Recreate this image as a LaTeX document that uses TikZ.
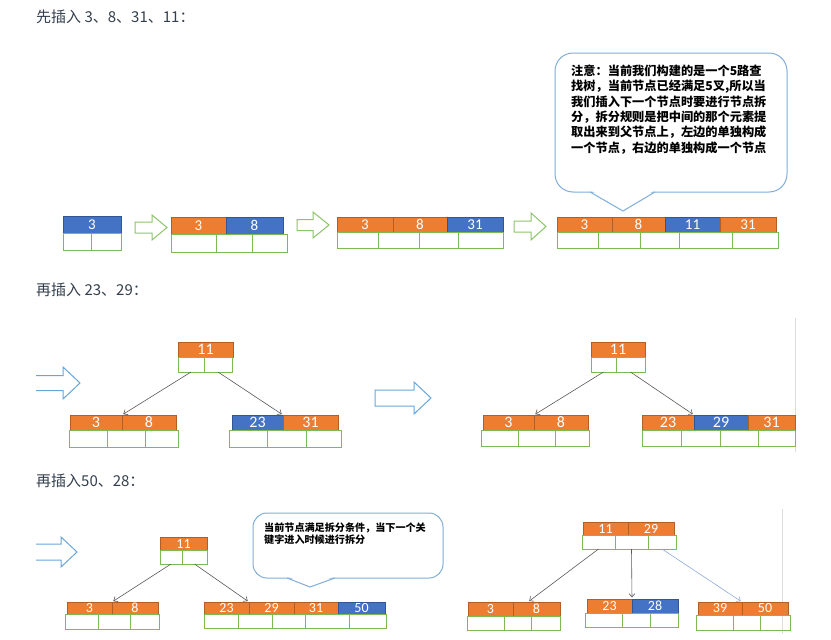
\documentclass[tikz,border=0pt]{standalone}
\usepackage{fontspec}
\newfontfamily\cjk{Noto Sans CJK SC}
\newfontfamily\keyfont{Carlito}
\usetikzlibrary{arrows.meta}
\definecolor{kor}{HTML}{ED7D31}
\definecolor{kbl}{HTML}{4472C4}
\definecolor{gbox}{HTML}{7DBA56}
\definecolor{garrow}{HTML}{8CC46A}
\definecolor{barrow}{HTML}{6AA5DA}
\definecolor{callc}{HTML}{7FAEDB}
\definecolor{headc}{HTML}{34404D}
\definecolor{linkc}{HTML}{595959}
\definecolor{linkb}{HTML}{8FAADC}
\definecolor{edgec}{HTML}{DCDCDC}
\tikzset{
  keycell/.style={anchor=north west, inner sep=0pt, outer sep=0pt, text=white, line width=0.5pt},
  ptrcell/.style={anchor=north west, draw=gbox, line width=0.9pt, inner sep=0pt, outer sep=0pt},
  link/.style={draw=linkc, line width=0.6pt, shorten >=1.5pt, -{Straight Barb[length=3.5pt,width=6pt]}},
  head/.style={anchor=west, inner sep=0pt, text=headc, font=\cjk\fontsize{15}{17}\selectfont},
  callout/.style={draw=callc, line width=1pt},
  notetext/.style={anchor=north west, inner sep=0pt, align=left, text=black},
  garr/.style={draw=garrow, line width=1pt},
  barr/.style={draw=barrow, line width=1pt},
  edgeline/.style={draw=edgec, line width=0.8pt}
}
% B-tree node: name, ytop, keyh, ptrh, fontsize, keys {x0/x1/label/colour}, pointers {x0/x1}
\newcommand{\btn}[7]{%
  \foreach [count=\i] \a/\b/\l/\c in {#6}{%
    \node[keycell, fill=\c, draw=\c!75!black, minimum width={(\b-\a)*1pt}, minimum height=#3pt, font=\keyfont\fontsize{#5}{#5}\selectfont] (#1-k\i) at (\a,#2) {\l};}%
  \foreach [count=\i] \a/\b in {#7}{%
    \node[ptrcell, minimum width={(\b-\a)*1pt}, minimum height=#4pt] (#1-p\i) at (\a,#2+#3) {};}%
}
% hollow arrow: style, x0, xhead, xtip, ycentre, body half, head half
\newcommand{\harrow}[7]{%
  \draw[#1] (#2,#5-#6) -- (#3,#5-#6) -- (#3,#5-#7) -- (#4,#5) -- (#3,#5+#7) -- (#3,#5+#6) -- (#2,#5+#6) -- cycle;}
\newcommand{\harrowopen}[7]{%
  \draw[#1] (#2,#5-#6) -- (#3,#5-#6) -- (#3,#5-#7) -- (#4,#5) -- (#3,#5+#7) -- (#3,#5+#6) -- (#2,#5+#6);}
\begin{document}
\begin{tikzpicture}[x=1pt,y=-1pt]
\useasboundingbox (0,0) rectangle (831,640);
\fill[white] (0,0) rectangle (831,640);

% headings
\node[head] (h1) at (36,17) {先插入 3、8、31、11：};
\node[head] (h2) at (36,290) {再插入 23、29：};
\node[head] (h3) at (36,481) {再插入50、28：};

% ---------- row 1 ----------
\btn{A}{216}{17}{17}{15}{63/121/3/kbl}{63/91, 91/121}
\harrow{garr}{135}{152}{167}{227.5}{5.5}{12.5}
\btn{B}{217}{17}{18}{15}{171/226/3/kor, 226/283/8/kbl}{171/216, 216/252, 252/287}
\harrow{garr}{297}{313}{329}{225}{5.5}{13}
\btn{C}{217}{15}{16}{15}{337/393/3/kor, 393/447/8/kor, 447/503/31/kbl}{337/378, 378/419, 419/458, 458/503}
\harrow{garr}{514}{531}{546}{226.5}{5.5}{13.5}
\btn{D}{217}{15}{16}{15}{557/612/3/kor, 612/665/8/kor, 665/720/11/kbl, 720/776/31/kor}{557/598, 598/640, 640/679, 679/732, 732/778}

% callout 1
\draw[callout, rounded corners=18pt] (555,53) rectangle (787,192);
\fill[white] (591,190.5) -- (654,190.5) -- (623,210) -- cycle;
\draw[callout] (590,192) -- (623,211) -- (655,192);
\node[notetext, font=\cjk\bfseries\fontsize{12.2}{15.4}\selectfont] (note1) at (571,64.5)
  {注意：当前我们构建的是一个5路查\\找树，当前节点已经满足5叉,所以当\\我们插入下一个节点时要进行节点拆\\分，拆分规则是把中间的那个元素提\\取出来到父节点上，左边的单独构成\\一个节点，右边的单独构成一个节点};

% ---------- row 2 ----------
\harrowopen{barr}{36}{63}{80}{383}{7.5}{16}
\btn{T1r}{342}{15}{15}{16}{178/233/11/kor}{178/204, 204/232}
\btn{T1l}{415}{15}{17}{16}{70/122/3/kor, 122/176/8/kor}{69/107, 107/145, 145/178}
\btn{T1c}{415}{15}{17}{16}{232/283/23/kbl, 283/338/31/kor}{229/267, 267/306, 306/341}
\draw[link] (T1r-p1.south) -- (T1l-k1.north east);
\draw[link] (T1r-p2.south) -- (T1c-k1.north east);

\harrow{barr}{375}{414}{431}{398}{8}{16}

\draw[edgeline] (795,318) -- (795,452);
\btn{T2r}{342}{15}{15}{16}{591/645/11/kor}{591/616, 616/645}
\btn{T2l}{415}{15}{16}{16}{483/534/3/kor, 534/588/8/kor}{481/518, 518/555, 555/589}
\btn{T2c}{415}{15}{16}{16}{642/694/23/kor, 694/748/29/kbl, 748/795/31/kor}{642/681, 681/720, 720/758, 758/795}
\draw[link] (T2r-p1.south) -- (T2l-k1.north east);
\draw[link] (T2r-p2.south) -- (T2c-k1.north east);

% ---------- row 3 ----------
\harrowopen{barr}{36}{61}{77}{552}{8}{15}
\btn{T3r}{537}{13}{14}{14}{160/207/11/kor}{160/182, 182/207}
\btn{T3l}{602}{12}{15}{14}{67/112/3/kor, 112/158/8/kor}{65/98, 98/130, 130/159}
\btn{T3c}{602}{12}{14}{14}{204/249/23/kor, 249/294/29/kor, 294/338/31/kor, 338/385/50/kbl}{204/238, 238/272, 272/305, 305/349, 349/386}
\draw[link] (T3r-p1.south) -- (T3l-k1.north east);
\draw[link] (T3r-p2.south) -- (T3c-k1.north east);

% callout 2
\draw[callout, rounded corners=14pt] (253,513) rectangle (443,578);
\fill[white] (288,576.5) -- (334,576.5) -- (310,586) -- cycle;
\draw[callout] (287,578) -- (310,587) -- (335,578);
\node[notetext, font=\cjk\bfseries\fontsize{10.1}{12}\selectfont] (note2) at (264,522.5)
  {当前节点满足拆分条件，当下一个关\\键字进入时候进行拆分};

\draw[edgeline] (782,509) -- (782,634);
\btn{T4r}{522}{13}{14}{14}{583/628/11/kor, 628/674/29/kor}{582/615, 615/648, 648/676}
\btn{T4l}{602}{14}{14}{14}{468/513/3/kor, 513/560/8/kor}{467/504, 504/531, 531/560}
\btn{T4m}{599}{14}{14}{14}{587/632/23/kor, 632/678/28/kbl}{585/622, 622/650, 650/678}
\btn{T4c}{602}{13}{15}{14}{698/742/39/kor, 742/788/50/kor}{696/733, 733/760, 760/790}
\draw[link] (T4r-p1.south) -- ([xshift=15pt]T4l-k1.north east);
\draw[link] (T4r-p2.south) -- (T4m-k1.north east);
\draw[link, draw=linkb] (T4r-p3.south) -- (T4c-k1.north east);
\end{tikzpicture}
\end{document}
